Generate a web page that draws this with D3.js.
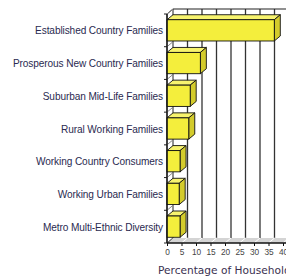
<!DOCTYPE html>
<html><head><meta charset="utf-8">
<script src="https://cdn.jsdelivr.net/npm/d3@7"></script>
<style>body{margin:0;background:#fff;overflow:hidden}svg{display:block}</style>
</head><body><svg id="c" width="286" height="279"></svg>
<script>
const categories = ["Established Country Families","Prosperous New Country Families","Suburban Mid-Life Families","Rural Working Families","Working Country Consumers","Working Urban Families","Metro Multi-Ethnic Diversity"];
const values = [37, 11.5, 8, 7.5, 4.5, 4.2, 4.5];
const tickValues = [0,5,10,15,20,25,30,35,40];
const axisTitle = "Percentage of Households";

const svg = d3.select("#c");
const dx = 6, dy = -5;
const x = d3.scaleLinear().domain([0,40]).range([167,283]);
const y = d3.scaleBand().domain(categories).range([14,243]).paddingInner(0.35).paddingOuter(0.175);
const x0 = x(0), yTop = 14, yBot = 243;
const g = svg.append("g");

// floor (bottom)
g.append("path").attr("d", `M${x0},${yBot}L${x0+dx},${yBot+dy}L286,${yBot+dy}L286,${yBot}Z`)
  .attr("fill","#d4d4d4").attr("stroke","none");
// left wall
g.append("path").attr("d", `M${x0},${yTop}L${x0+dx},${yTop+dy}L${x0+dx},${yBot+dy}L${x0},${yBot}Z`)
  .attr("fill","#fff").attr("stroke","#222").attr("stroke-width",1);
// back wall gridlines
tickValues.forEach(v => {
  if (v === 0) return;
  g.append("line").attr("x1", x(v)+dx).attr("x2", x(v)+dx).attr("y1", yTop+dy).attr("y2", yBot+dy)
    .attr("stroke","#333").attr("stroke-width",1.3);
  g.append("line").attr("x1", x(v)+dx).attr("x2", x(v)).attr("y1", yBot+dy).attr("y2", yBot)
    .attr("stroke","#fff").attr("stroke-width",1);
});
// top back edge
g.append("line").attr("x1", x0+dx).attr("x2", 286).attr("y1", yTop+dy).attr("y2", yTop+dy).attr("stroke","#222").attr("stroke-width",1.2);
// wall gridlines at category boundaries
const bounds = d3.range(categories.length+1).map(i => yTop + i*(yBot-yTop)/categories.length);
bounds.forEach(b => {
  g.append("line").attr("x1", x0).attr("x2", x0+dx).attr("y1", b).attr("y2", b+dy).attr("stroke","#888").attr("stroke-width",1);
  g.append("line").attr("x1", x0-3).attr("x2", x0).attr("y1", b).attr("y2", b).attr("stroke","#222").attr("stroke-width",1);
});

// bars
categories.forEach((c,i) => {
  const v = values[i];
  const yb = y(c), h = y.bandwidth(), xe = x(v);
  g.append("path").attr("d", `M${x0},${yb}L${x0+dx},${yb+dy}L${xe+dx},${yb+dy}L${xe},${yb}Z`)
    .attr("fill","#f7f36e").attr("stroke","#111").attr("stroke-width",0.9);
  g.append("path").attr("d", `M${xe},${yb}L${xe+dx},${yb+dy}L${xe+dx},${yb+h+dy}L${xe},${yb+h}Z`)
    .attr("fill","#d3cb2c").attr("stroke","#111").attr("stroke-width",0.9);
  g.append("rect").attr("x", x0).attr("y", yb).attr("width", xe-x0).attr("height", h)
    .attr("fill","#f4ee3c").attr("stroke","#111").attr("stroke-width",0.9);
});

// front axes
g.append("line").attr("x1", x0).attr("x2", x0).attr("y1", yTop).attr("y2", yBot).attr("stroke","#111").attr("stroke-width",1.3);
const ax = svg.append("g").attr("transform", `translate(0,${yBot})`)
  .call(d3.axisBottom(x).tickValues(tickValues).tickSize(3).tickPadding(3).tickFormat(d3.format("d")));
ax.select(".domain").attr("d", `M${x0},0H286`).attr("stroke","#111").attr("stroke-width",1.3);
ax.selectAll(".tick line").attr("stroke","#111");
ax.selectAll("text").attr("font-family","Liberation Sans, Arial, sans-serif").attr("font-size",8.3).attr("fill","#444");

// category labels
svg.append("g").selectAll("text").data(categories).join("text")
  .attr("x", 163).attr("y", d => y(d) + y.bandwidth()/2 + 4)
  .attr("text-anchor","end").attr("font-family","Liberation Sans, Arial, sans-serif")
  .attr("font-size",10.1).attr("letter-spacing",-0.1).attr("fill","#2a2a50").text(d => d);

svg.append("text").attr("x",158).attr("y",273.5).attr("font-family","DejaVu Sans, sans-serif")
  .attr("font-size",10.6).attr("fill","#3a3050").text(axisTitle);
</script></body></html>
